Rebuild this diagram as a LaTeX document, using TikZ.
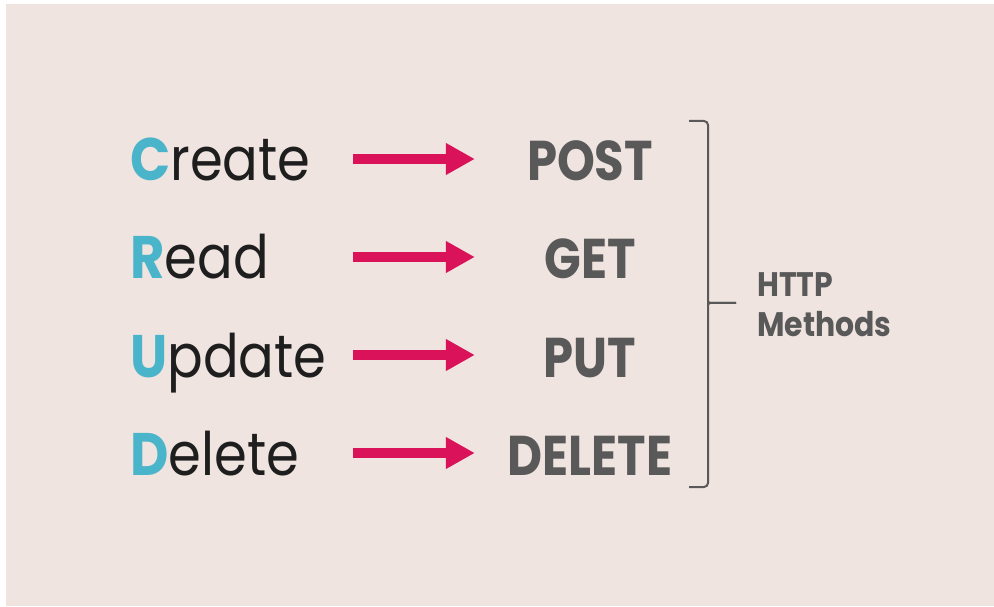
\documentclass[tikz,border=0pt]{standalone}
\usepackage{fontspec}
\setmainfont{Poppins}
\newfontfamily\crudfont{Poppins}[FakeStretch=0.88]
\newfontfamily\verbfont{Poppins}[FakeStretch=0.86]
\usepackage{xcolor}
\usepackage{tikz}
\usetikzlibrary{arrows.meta}

\definecolor{bgbeige}{HTML}{EFE4E0}
\definecolor{crudteal}{HTML}{4AB5CA}
\definecolor{crudpink}{HTML}{DA1259}
\definecolor{methodgrey}{HTML}{595959}
\definecolor{worddark}{HTML}{1E1E1E}
\newcommand{\crudletter}[1]{\textcolor{crudteal}{\bfseries #1}}

\begin{document}
\begin{tikzpicture}[
    x=1pt, y=1pt,
    crud/.style={anchor=base west, inner sep=0pt, text width=200pt, align=left, text height=44pt, text depth=0pt, text=worddark, font=\crudfont\fontsize{60}{60}\selectfont},
    method/.style={anchor=base, inner sep=0pt, text width=170pt, align=center, text height=44pt, text depth=0pt, text=methodgrey, font=\verbfont\bfseries\fontsize{56}{56}\selectfont},
    arrow/.style={-{Triangle[length=29pt,width=30pt]}, line width=10pt, draw=crudpink, shorten <=23pt, shorten >=30pt}
]
    \useasboundingbox (0,0) rectangle (994,606);
    \fill[bgbeige] (6,0) rectangle (994,602);

    % CRUD operations
    \node[crud] (create) at (130,425) {\crudletter{C}reate};
    \node[crud] (read) at (130,327) {\crudletter{R}ead};
    \node[crud] (update) at (130,229) {\crudletter{U}pdate};
    \node[crud] (delete) at (130,131) {\crudletter{D}elete};

    % HTTP verbs
    \node[method] (post) at (590,425) {POST};
    \node[method] (get) at (590,327) {GET};
    \node[method] (put) at (590,229) {PUT};
    \node[method] (del) at (590,131) {DELETE};

    % Arrows
    \draw[arrow] (create) -- (post);
    \draw[arrow] (read) -- (get);
    \draw[arrow] (update) -- (put);
    \draw[arrow] (delete) -- (del);

    % Bracket and label
    \node[anchor=west, inner sep=0pt, align=left, text=methodgrey, font=\crudfont\bfseries\fontsize{34}{40}\selectfont] (http) at (757,301) {HTTP\\Methods};
    \draw[methodgrey, line width=2pt, rounded corners=4pt] (689,485) -- (708,485) -- (708,307) to[out=-90,in=180] (714,303) -- (736,303);
    \draw[methodgrey, line width=2pt, rounded corners=4pt] (736,303) -- (714,303) to[out=180,in=90] (708,299) -- (708,119) -- (689,119);
\end{tikzpicture}
\end{document}
